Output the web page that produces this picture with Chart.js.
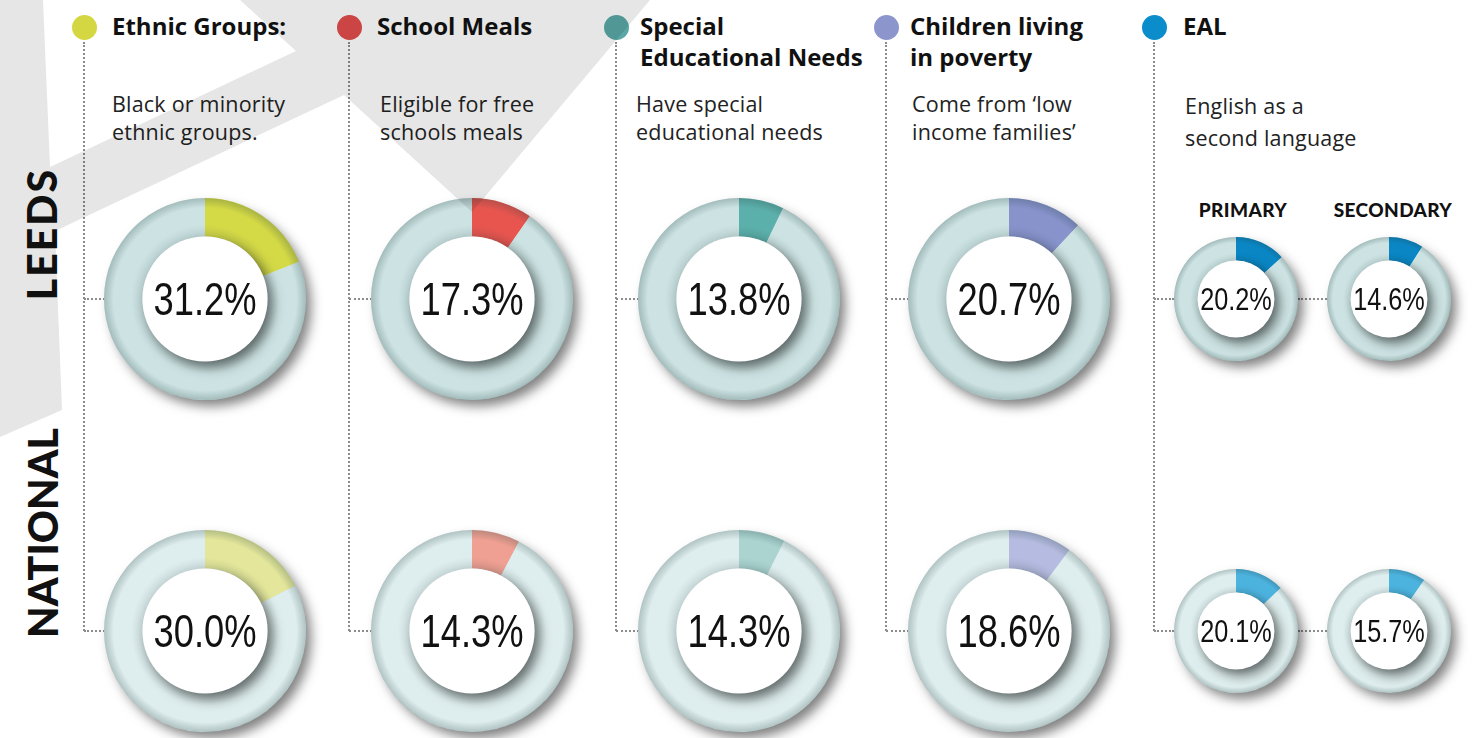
<!DOCTYPE html>
<html>
<head>
<meta charset="utf-8">
<script src="https://cdn.jsdelivr.net/npm/chart.js@4.4.1/dist/chart.umd.min.js"></script>
<style>
    body { margin: 0; background: #fff; }
    #page { position: relative; width: 1481px; height: 738px; overflow: hidden; background: #fff; font-family: "Open Sans", Lato, sans-serif; }
    #bg { position: absolute; left: 0; top: 0; z-index: 5; mix-blend-mode: multiply; pointer-events: none; }
    .dot { position: absolute; width: 25px; height: 25px; border-radius: 50%; z-index: 2; }
    .title { position: absolute; font-weight: 700; font-size: 24px; line-height: 31px; color: #111; z-index: 2; white-space: nowrap; }
    .sub { position: absolute; font-weight: 400; font-size: 21.5px; line-height: 28px; letter-spacing: 0.2px; color: #222; z-index: 2; white-space: nowrap; }
    .vline { position: absolute; border-left: 2px dotted #8c8c8c; width: 0; z-index: 1; }
    .hline { position: absolute; border-top: 2px dotted #8c8c8c; height: 0; z-index: 1; }
    .donut { position: absolute; z-index: 3; }
    .pct { position: absolute; left: 50%; top: 50%; transform: translate(-50%, -50%) scaleX(0.79); font-family: "Liberation Sans", Arial, sans-serif; color: #111; white-space: nowrap; line-height: 1; }
    .row { position: absolute; font-family: Lato, sans-serif; font-weight: 900; font-size: 41px; color: #111; transform: translate(-50%, -50%) rotate(-90deg); z-index: 2; white-space: nowrap; }
    .group { position: absolute; font-family: Lato, sans-serif; font-weight: 900; font-size: 19px; letter-spacing: 0.4px; color: #111; transform: translateX(-50%); z-index: 2; white-space: nowrap; }
</style>
</head>
<body>
<div id="page">
    <svg id="bg" width="1481" height="738">
        <polygon points="0,0 43,0 50,167 296,51 240,0 650,0 472,212 344,95 55,231 62,410 0,437" fill="#e6e6e6"/>
    </svg>
</div>
<script>

var titles = [['Ethnic Groups:'], ['School Meals'], ['Special', 'Educational Needs'], ['Children living', 'in poverty'], ['EAL']];
var subtitles = [['Black or minority', 'ethnic groups.'], ['Eligible for free', 'schools meals'], ['Have special', 'educational needs'], ['Come from \u2018low', 'income families\u2019'], ['English as a', 'second language']];
var rows = ['LEEDS', 'NATIONAL'];
var ealGroups = ['PRIMARY', 'SECONDARY'];

// figures printed in the middle of each ring
var leedsValues = [31.2, 17.3, 13.8, 20.7];
var nationalValues = [30.0, 14.3, 14.3, 18.6];
var leedsEal = [20.2, 14.6];
var nationalEal = [20.1, 15.7];

// coloured share of each ring as drawn (the picture does not draw them to scale)
var leedsArc = [19, 9.7, 7.2, 12];
var nationalArc = [17.6, 7.7, 7.4, 10.2];
var leedsEalArc = [13.2, 9];
var nationalEalArc = [12.8, 9.6];

var dotColors = ['#d4d742', '#e04c4a', '#5aa8a5', '#8c96cc', '#0b8dcc'];
var leedsColors = ['#d4d946', '#e8554f', '#5cb0ab', '#8893cc', '#0a86c4'];
var nationalColors = ['#e4e79b', '#efa092', '#abd4d1', '#b6bce1', '#4cb3df'];
var leedsRing = '#cde3e3';
var nationalRing = '#deeded';

// layout
var dotX = [84, 349, 616, 886, 1154];
var titleX = [112, 377, 640, 910, 1183];
var subX = [112, 380, 636, 912, 1185];
var donutX = [205, 472, 739, 1009];
var ealX = [1236, 1389];
var rowY = [299, 631];

var page = document.getElementById('page');

function el(cls, css, text) {
    var d = document.createElement('div');
    d.className = cls;
    for (var k in css) {
        d.style[k] = css[k];
    }
    if (text) d.textContent = text;
    page.appendChild(d);
    return d;
}

var ringLook = {
    id: 'ringLook',
    beforeDatasetsDraw: function(chart) {
        var a = chart.getDatasetMeta(0).data[0];
        var ctx = chart.ctx;
        ctx.save();
        ctx.shadowColor = 'rgba(0,0,0,0.5)';
        ctx.shadowBlur = 12;
        ctx.shadowOffsetX = 6;
        ctx.shadowOffsetY = 7;
        ctx.beginPath();
        ctx.arc(a.x, a.y, a.outerRadius - 1, 0, Math.PI * 2);
        ctx.fillStyle = '#cfdfdf';
        ctx.fill();
        ctx.restore();
    },
    afterDatasetsDraw: function(chart) {
        var a = chart.getDatasetMeta(0).data[0];
        var ctx = chart.ctx;
        var R = a.outerRadius, r = a.innerRadius;
        // soft darker edges on the ring
        var g = ctx.createRadialGradient(a.x, a.y, r, a.x, a.y, R);
        g.addColorStop(0, 'rgba(30,60,60,0.10)');
        g.addColorStop(0.3, 'rgba(30,60,60,0)');
        g.addColorStop(0.75, 'rgba(30,60,60,0)');
        g.addColorStop(1, 'rgba(30,60,60,0.24)');
        ctx.save();
        ctx.beginPath();
        ctx.arc(a.x, a.y, R, 0, Math.PI * 2);
        ctx.arc(a.x, a.y, r, Math.PI * 2, 0, true);
        ctx.fillStyle = g;
        ctx.fill();
        ctx.restore();
        // white centre casting a shadow on the ring
        ctx.save();
        ctx.shadowColor = 'rgba(0,0,0,0.5)';
        ctx.shadowBlur = 12;
        ctx.shadowOffsetX = 5;
        ctx.shadowOffsetY = 6;
        ctx.beginPath();
        ctx.arc(a.x, a.y, r, 0, Math.PI * 2);
        ctx.fillStyle = '#fff';
        ctx.fill();
        ctx.restore();
    }
};

function makeDonut(cx, cy, r, arc, color, ring, value, fontSize) {
    var pad = 18;
    var size = 2 * r + 2 * pad;
    var wrap = el('donut', { left: (cx - r - pad) + 'px', top: (cy - r - pad) + 'px', width: size + 'px', height: size + 'px' });
    var canvas = document.createElement('canvas');
    canvas.width = size;
    canvas.height = size;
    wrap.appendChild(canvas);
    var label = document.createElement('div');
    label.className = 'pct';
    label.style.fontSize = fontSize + 'px';
    label.textContent = value.toFixed(1) + '%';
    wrap.appendChild(label);

    new Chart(canvas, {
        type: 'doughnut',
        data: {
            labels: ['share', 'rest'],
            datasets: [{
                data: [arc, 100 - arc],
                backgroundColor: [color, ring],
                borderWidth: 0
            }]
        },
        options: {
            responsive: false,
            animation: false,
            cutout: '62%',
            layout: { padding: pad },
            plugins: { legend: { display: false }, tooltip: { enabled: false } }
        },
        plugins: [ringLook]
    });
}

// headers and dotted guides
for (var i = 0; i < titles.length; i++) {
    el('dot', { left: (dotX[i] - 12) + 'px', top: '15px', background: dotColors[i] });
    el('title', { left: titleX[i] + 'px', top: '10px' }).innerHTML = titles[i].join('<br>');
    var s = el('sub', { left: subX[i] + 'px', top: '90px' });
    s.innerHTML = subtitles[i].join('<br>');
    if (i == 4) s.style.lineHeight = '32px';
    el('vline', { left: (dotX[i] - 1) + 'px', top: '42px', height: (rowY[1] - 42) + 'px' });
    var endX = i < 4 ? donutX[i] - 100 : ealX[0] - 62;
    el('hline', { left: dotX[i] + 'px', top: (rowY[0] - 1) + 'px', width: (endX - dotX[i]) + 'px' });
    el('hline', { left: dotX[i] + 'px', top: (rowY[1] - 1) + 'px', width: (endX - dotX[i]) + 'px' });
}
el('hline', { left: (ealX[0] + 62) + 'px', top: (rowY[0] - 1) + 'px', width: (ealX[1] - ealX[0] - 124) + 'px' });
el('hline', { left: (ealX[0] + 62) + 'px', top: (rowY[1] - 1) + 'px', width: (ealX[1] - ealX[0] - 124) + 'px' });

var leeds = el('row', { left: '41px', top: '234px' }, rows[0]);
leeds.style.letterSpacing = '2px';
el('row', { left: '42px', top: '533px' }, rows[1]);
el('group', { left: ealX[0] + 7 + 'px', top: '198px' }, ealGroups[0]);
el('group', { left: ealX[1] + 4 + 'px', top: '198px' }, ealGroups[1]);

for (var j = 0; j < 4; j++) {
    makeDonut(donutX[j], rowY[0], 101, leedsArc[j], leedsColors[j], leedsRing, leedsValues[j], 46);
    makeDonut(donutX[j], rowY[1], 101, nationalArc[j], nationalColors[j], nationalRing, nationalValues[j], 46);
}
for (var k = 0; k < 2; k++) {
    makeDonut(ealX[k], rowY[0], 62, leedsEalArc[k], leedsColors[4], leedsRing, leedsEal[k], 32);
    makeDonut(ealX[k], rowY[1], 62, nationalEalArc[k], nationalColors[4], nationalRing, nationalEal[k], 32);
}

</script>
</body>
</html>
